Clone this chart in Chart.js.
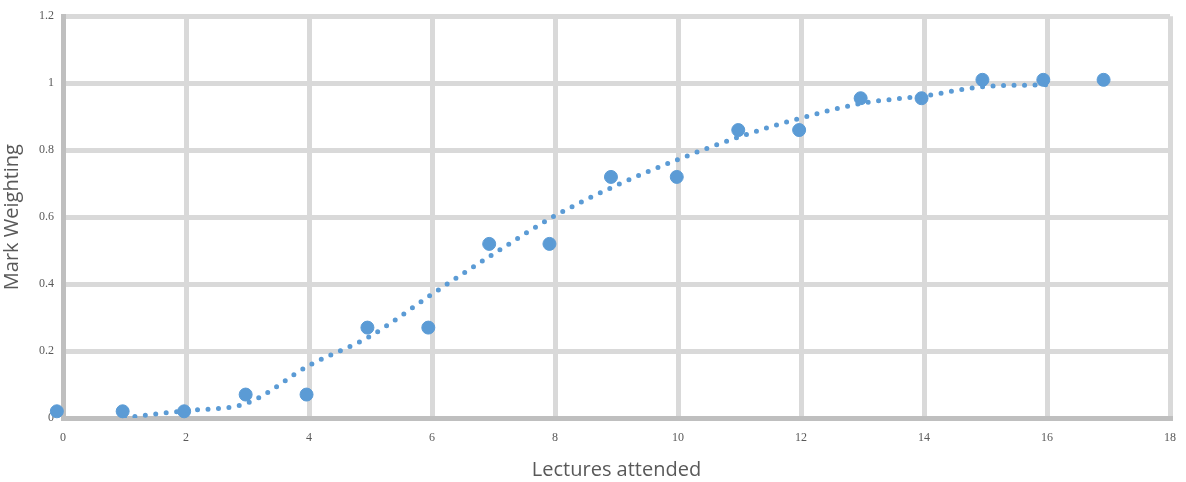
<!DOCTYPE html>
<html>
<head>
<meta charset="utf-8">
<script src="https://cdn.jsdelivr.net/npm/chart.js@4"></script>
<style>
  body { margin: 0; background: #fff; }
  #wrap { width: 1186px; height: 482px; }
</style>
</head>
<body>
<div id="wrap"><canvas id="marks"></canvas></div>
<script>
// observed points
var lectures = [-0.1, 0.97, 1.97, 2.97, 3.96, 4.95, 5.94, 6.93, 7.91, 8.91, 9.98, 10.98, 11.97, 12.97, 13.96, 14.95, 15.94, 16.92]
var weights = [0.02, 0.02, 0.02, 0.07, 0.07, 0.27, 0.27, 0.52, 0.52, 0.72, 0.72, 0.86, 0.86, 0.955, 0.955, 1.01, 1.01, 1.01]
// dotted trendline
var trendX = [1, 1.5, 2, 3, 4, 5, 6, 7, 8, 9, 10, 11, 12, 13, 14, 15, 16]
var trendY = [0.0, 0.012, 0.022, 0.045, 0.157, 0.245, 0.37, 0.49, 0.604, 0.695, 0.772, 0.84, 0.896, 0.94, 0.962, 0.99, 0.995]

var pts = []
for (let i = 0; i < lectures.length; i++) {
    pts.push({x: lectures[i], y: weights[i]})
}
var trend = []
for (let i = 0; i < trendX.length; i++) {
    trend.push({x: trendX[i], y: trendY[i]})
}

var ctx = document.getElementById('marks').getContext('2d');
var chart = new Chart(ctx, {
    type: 'scatter',
    data: {
        datasets: [{
            label: 'Trend',
            type: 'line',
            data: trend,
            borderColor: '#5b9bd5',
            borderWidth: 5,
            borderDash: [0, 10.5],
            borderCapStyle: 'round',
            pointRadius: 0,
            fill: false,
            cubicInterpolationMode: 'monotone'
        }, {
            label: 'Mark Weighting',
            data: pts,
            backgroundColor: '#5b9bd5',
            borderColor: '#5b9bd5',
            pointRadius: 6.5,
            clip: false
        }]
    },
    options: {
        responsive: true,
        maintainAspectRatio: false,
        animation: false,
        layout: { padding: { top: 14, right: 0, left: 0, bottom: 0 } },
        plugins: {
            legend: { display: false },
            tooltip: { enabled: false }
        },
        scales: {
            x: {
                type: 'linear',
                min: 0,
                max: 18,
                ticks: {
                    stepSize: 2,
                    color: '#595959',
                    font: { family: 'Liberation Serif', size: 12 },
                    padding: 13
                },
                grid: { color: '#d9d9d9', lineWidth: 5, drawTicks: false },
                border: { color: '#bfbfbf', width: 5 },
                title: {
                    display: true,
                    text: 'Lectures attended',
                    color: '#595959',
                    font: { family: 'Open Sans', size: 20 },
                    padding: { top: 3, bottom: 0 }
                },
                afterFit: function(scale) {
                    scale.height = 64
                    scale.paddingLeft = 0
                    scale.paddingRight = 16
                }
            },
            y: {
                min: 0,
                max: 1.2,
                ticks: {
                    stepSize: 0.2,
                    color: '#595959',
                    font: { family: 'Liberation Serif', size: 12 },
                    padding: 9,
                    callback: function(v) { return String(Number(v.toFixed(1))) }
                },
                grid: { color: '#d9d9d9', lineWidth: 5, drawTicks: false },
                border: { color: '#bfbfbf', width: 5 },
                title: {
                    display: true,
                    text: 'Mark Weighting',
                    color: '#595959',
                    font: { family: 'Open Sans', size: 20 },
                    padding: { top: 0, bottom: 4 }
                },
                afterFit: function(scale) { scale.width = 63 }
            }
        }
    }
});
</script>
</body>
</html>
